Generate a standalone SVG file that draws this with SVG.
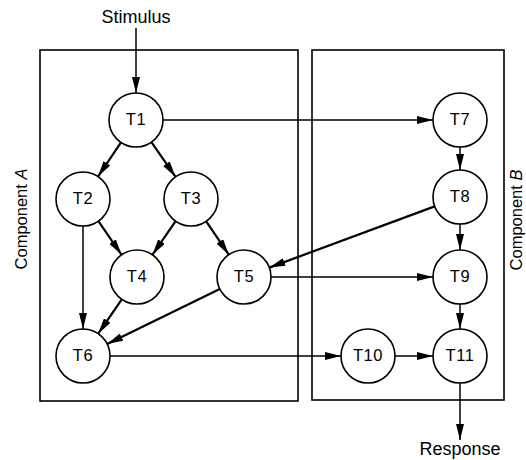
<svg xmlns="http://www.w3.org/2000/svg" width="526" height="460" viewBox="0 0 526 460">
  <style>
    .box { fill: none; stroke: #000; stroke-width: 1.6; }
    .node circle { fill: #fff; stroke: #000; stroke-width: 1.6; }
    .node text, .lbl { font-family: "Liberation Sans", Arial, sans-serif; fill: #000; text-anchor: middle; }
    .node text { font-size: 16.5px; letter-spacing: 0.6px; }
    .lbl { font-size: 18px; }
    .comp { font-size: 16.5px; }
    .edge { fill: none; stroke: #000; stroke-width: 1.5; marker-end: url(#arrow); }
    .edge.heavy { stroke-width: 2.2; }
  </style>
  <defs>
    <marker id="arrow" markerUnits="userSpaceOnUse" markerWidth="17" markerHeight="8" refX="16" refY="4" orient="auto">
      <path d="M0,0 L16,4 L0,8 z" fill="#000"/>
    </marker>
  </defs>

  <!-- component boundaries -->
  <rect class="box" x="40" y="50" width="258" height="351"/>
  <rect class="box" x="312" y="50" width="192" height="350"/>
  <text class="lbl comp" transform="translate(27,219) rotate(-90)">Component <tspan font-style="italic">A</tspan></text>
  <text class="lbl comp" transform="translate(522,220) rotate(-90)">Component <tspan font-style="italic">B</tspan></text>

  <text class="lbl" x="136" y="23">Stimulus</text>
  <text class="lbl" x="460" y="455">Response</text>

  <g id="connectors">
    <line class="edge" x1="136" y1="28" x2="136" y2="93"/>
    <line class="edge" x1="163" y1="120" x2="433" y2="120"/>
    <line class="edge heavy" x1="121" y1="142.4" x2="98" y2="176.6"/>
    <line class="edge heavy" x1="151.4" y1="142.1" x2="175.6" y2="176.9"/>
    <line class="edge heavy" x1="98.4" y1="221.2" x2="121.6" y2="254.8"/>
    <line class="edge heavy" x1="175.6" y1="221.2" x2="152.4" y2="254.8"/>
    <line class="edge heavy" x1="206.2" y1="221.3" x2="228.8" y2="254.7"/>
    <line class="edge" x1="83" y1="226" x2="83" y2="329"/>
    <line class="edge heavy" x1="121.8" y1="299.3" x2="98.2" y2="333.7"/>
    <line class="edge heavy" x1="219.8" y1="288.9" x2="107.2" y2="344.1"/>
    <line class="edge" x1="460" y1="147" x2="460" y2="170"/>
    <line class="edge" x1="460" y1="224" x2="460" y2="250"/>
    <line class="edge heavy" x1="434.7" y1="206.4" x2="269.3" y2="267.6"/>
    <line class="edge" x1="271" y1="277" x2="433" y2="277"/>
    <line class="edge" x1="460" y1="304" x2="460" y2="329"/>
    <line class="edge" x1="110" y1="356" x2="341" y2="356"/>
    <line class="edge" x1="395" y1="356" x2="433" y2="356"/>
    <line class="edge" x1="460" y1="383" x2="460" y2="440"/>
  </g>

  <g id="T1" class="node"><circle cx="136" cy="120" r="27"/><text x="136" y="125">T1</text></g>
  <g id="T2" class="node"><circle cx="83" cy="199" r="27"/><text x="83" y="204">T2</text></g>
  <g id="T3" class="node"><circle cx="191" cy="199" r="27"/><text x="191" y="204">T3</text></g>
  <g id="T4" class="node"><circle cx="137" cy="277" r="27"/><text x="137" y="282">T4</text></g>
  <g id="T5" class="node"><circle cx="244" cy="277" r="27"/><text x="244" y="282">T5</text></g>
  <g id="T6" class="node"><circle cx="83" cy="356" r="27"/><text x="83" y="361">T6</text></g>
  <g id="T7" class="node"><circle cx="460" cy="120" r="27"/><text x="460" y="125">T7</text></g>
  <g id="T8" class="node"><circle cx="460" cy="197" r="27"/><text x="460" y="202">T8</text></g>
  <g id="T9" class="node"><circle cx="460" cy="277" r="27"/><text x="460" y="282">T9</text></g>
  <g id="T10" class="node"><circle cx="368" cy="356" r="27"/><text x="368" y="361">T10</text></g>
  <g id="T11" class="node"><circle cx="460" cy="356" r="27"/><text x="460" y="361">T11</text></g>
</svg>
